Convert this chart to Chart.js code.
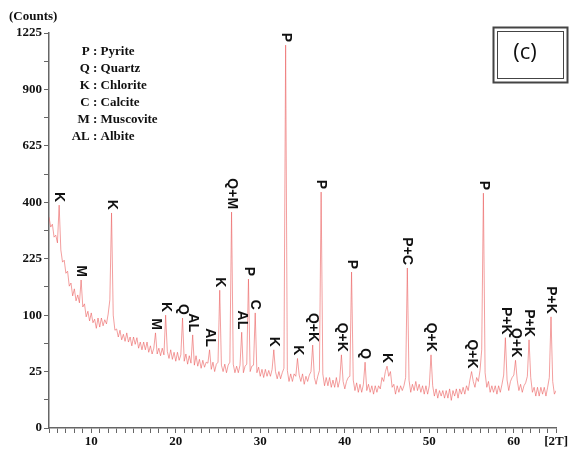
<!DOCTYPE html>
<html lang="en">
<head>
<meta charset="UTF-8">
<title>XRD (c)</title>
<script src="https://cdn.jsdelivr.net/npm/chart.js"></script>
<style>
  body { margin: 0; background: #fff; }
  #grafico { display: block; }
</style>
</head>
<body>
<canvas id="grafico" width="569" height="455"></canvas>
<script>
// scan grid: 2theta from 5 to 65 in 0.2 steps
var startAngle = 5;
var stepAngle = 0.2;

// counts, one block of 5 values per degree
var counts = [
  349, 317, 326, 286, 292,   269, 390, 249, 216, 221,   188, 193, 158, 165, 137,
  152, 127, 139, 123, 172,   115, 121, 97, 107, 90,     104, 87, 93, 78, 95,
  80, 95, 82, 92, 85,        102, 129, 363, 100, 75,    77, 65, 75, 61, 69,
  59, 71, 58, 65, 53,        65, 55, 64, 50, 58,        48, 58, 48, 58, 45,
  53, 43, 50, 71, 43,        50, 41, 50, 42, 100,       46, 38, 48, 37, 45,
  35, 45, 36, 42, 95,        35, 43, 32, 41, 33,        68, 31, 41, 30, 37,
  28, 36, 29, 34, 33,        48, 27, 34, 25, 32,        34, 149, 31, 25, 32,
  24, 31, 34, 366, 32,       24, 30, 24, 31, 72,        24, 30, 32, 174, 25,
  30, 31, 104, 24, 29,       21, 27, 20, 27, 21,        26, 21, 27, 48, 25,
  19, 25, 19, 24, 28,        1151, 26, 17, 23, 17,      23, 21, 38, 22, 17,
  23, 15, 21, 17, 22,        25, 54, 20, 15, 21,        26, 437, 23, 14, 20,
  14, 20, 13, 18, 13,        20, 13, 18, 42, 17,        12, 17, 20, 21, 191,
  18, 11, 16, 10, 15,        10, 15, 34, 11, 15,        10, 14, 9, 14, 10,
  14, 12, 20, 17, 25,        30, 21, 25, 13, 15,        9, 14, 10, 14, 11,
  14, 20, 201, 18, 10,       15, 11, 17, 11, 15,        10, 14, 9, 14, 9,
  14, 42, 14, 8, 12,         7, 11, 8, 11, 7,           11, 7, 12, 6, 11,
  8, 12, 7, 12, 9,           13, 9, 14, 11, 18,         25, 17, 13, 20, 17,
  26, 48, 433, 24, 13,       17, 10, 14, 10, 14,        9, 14, 10, 15, 22,
  64, 18, 11, 17, 20,        22, 36, 18, 11, 15,        10, 14, 16, 21, 61,
  20, 10, 13, 8, 13,         8, 13, 9, 13, 8,           13, 20, 97, 17, 9,
  11
];

// peak labels
var peakNames  = ['K', 'M', 'K', 'M', 'K', 'Q', 'AL', 'AL', 'K', 'Q+M', 'AL', 'P', 'C', 'K', 'P', 'K',
                  'Q+K', 'P', 'Q+K', 'P', 'Q', 'K', 'P+C', 'Q+K', 'Q+K', 'P', 'P+K', 'Q+K', 'P+K', 'P+K'];
var peakAngles = [6.2, 8.8, 12.4, 17.6, 18.8, 20.8, 22.0, 24.0, 25.2, 26.6, 27.8, 28.6, 29.4, 31.6, 33.0, 34.4,
                  36.2, 37.2, 39.6, 40.8, 42.4, 45.0, 47.4, 50.2, 55.0, 56.4, 59.0, 60.2, 61.8, 64.4];

// y ticks (counts, sqrt scale)
var yTickCounts = [0, 25, 100, 225, 400, 625, 900, 1225];
var xTickLabels = [10, 20, 30, 40, 50, 60];

var legendAbbr = ['P', 'Q', 'K', 'C', 'M', 'AL'];
var legendNames = ['Pyrite', 'Quartz', 'Chlorite', 'Calcite', 'Muscovite', 'Albite'];

var pontos = [];
for (var i = 0; i < counts.length; i++) {
  pontos.push({ x: +(startAngle + stepAngle * i).toFixed(1), y: Math.sqrt(counts[i]) });
}

function contagemNoAngulo(a) {
  var idx = Math.round((a - startAngle) / stepAngle);
  return counts[idx];
}

var corEixo = '#666';
var fonteEixo = { family: 'Liberation Serif', size: 13, weight: 'bold' };

// rotated peak labels + legend text + (c) box
var extras = {
  id: 'extras',
  afterDatasetsDraw: function (chart) {
    var ctx = chart.ctx;
    var xs = chart.scales.x, ys = chart.scales.y;
    ctx.save();
    ctx.fillStyle = '#111';
    ctx.font = 'bold 14px "Liberation Sans"';
    ctx.textAlign = 'right';
    ctx.textBaseline = 'middle';
    for (var i = 0; i < peakNames.length; i++) {
      var px = xs.getPixelForValue(peakAngles[i]);
      var py = ys.getPixelForValue(Math.sqrt(contagemNoAngulo(peakAngles[i])));
      ctx.save();
      ctx.translate(px, py - 3);
      ctx.rotate(Math.PI / 2);
      ctx.fillText(peakNames[i], 0, 0);
      ctx.restore();
    }
    ctx.restore();
  },
  afterDraw: function (chart) {
    var ctx = chart.ctx;
    ctx.save();
    ctx.fillStyle = '#111';
    ctx.textBaseline = 'middle';
    ctx.font = 'bold 13px "Liberation Serif"';
    ctx.textAlign = 'left';
    ctx.fillText('(Counts)', 9, 17);
    for (var i = 0; i < legendAbbr.length; i++) {
      var ly = 52 + i * 17;
      ctx.textAlign = 'right';
      ctx.fillText(legendAbbr[i] + ' ', 93, ly);
      ctx.textAlign = 'left';
      ctx.fillText(': ' + legendNames[i], 93, ly);
    }
    // (c) box
    ctx.strokeStyle = '#444';
    ctx.lineWidth = 2;
    ctx.strokeRect(493.5, 27.5, 74, 55);
    ctx.lineWidth = 1;
    ctx.strokeRect(497.5, 31.5, 66, 47);
    ctx.font = '22px "Open Sans"';
    ctx.textAlign = 'center';
    ctx.fillText('(c)', 525, 53);
    ctx.restore();
  }
};

new Chart(document.getElementById('grafico'), {
  type: 'line',
  data: {
    datasets: [{
      data: pontos,
      borderColor: 'rgba(235, 95, 95, 0.6)',
      borderWidth: 1,
      pointRadius: 0,
      tension: 0,
      fill: false
    }]
  },
  options: {
    responsive: false,
    animation: false,
    parsing: false,
    layout: { padding: { left: 0, top: 33, right: 11, bottom: 0 } },
    plugins: { legend: { display: false }, tooltip: { enabled: false } },
    scales: {
      x: {
        type: 'linear',
        min: 5,
        max: 65,
        afterFit: function (s) { s.height = 27; },
        border: { display: true, color: corEixo, width: 1.5 },
        grid: { drawOnChartArea: false, drawTicks: true, tickLength: 5, color: corEixo },
        ticks: {
          stepSize: 1,
          autoSkip: false,
          maxRotation: 0,
          padding: 1,
          color: '#111',
          font: fonteEixo,
          callback: function (v) {
            if (xTickLabels.indexOf(v) >= 0) return String(v);
            if (v === 65) return '[2T]';
            return '';
          }
        }
      },
      y: {
        type: 'linear',
        min: 0,
        max: 35,
        afterFit: function (s) { s.width = 49; },
        border: { display: true, color: corEixo, width: 1.5 },
        grid: { drawOnChartArea: false, drawTicks: true, tickLength: 5, color: corEixo },
        ticks: {
          stepSize: 2.5,
          autoSkip: false,
          padding: 2,
          color: '#111',
          font: fonteEixo,
          callback: function (v) {
            var c = Math.round(v * v);
            return yTickCounts.indexOf(c) >= 0 && v % 5 === 0 ? String(c) : '';
          }
        }
      }
    }
  },
  plugins: [extras]
});
</script>
</body>
</html>
